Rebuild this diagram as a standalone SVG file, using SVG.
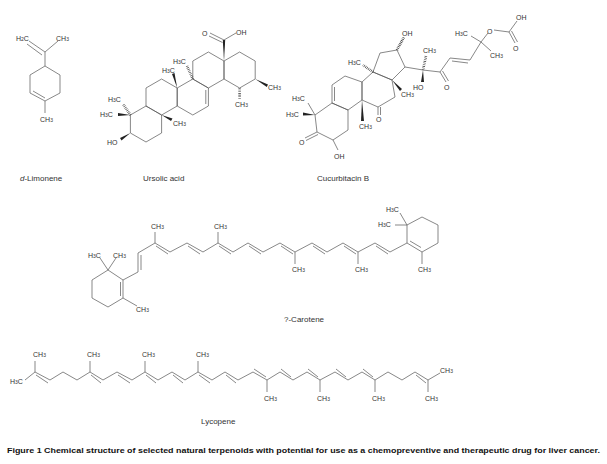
<svg xmlns="http://www.w3.org/2000/svg" width="607" height="464" viewBox="0 0 607 464">
<style>
line,polyline,polygon.r{stroke:#555;stroke-width:0.7;fill:none}
.w{fill:#222;stroke:none}
.h{stroke:#333;stroke-width:2.6;stroke-dasharray:0.6,1.1}
text{font-family:"Liberation Sans",Arial,sans-serif;font-size:7px;fill:#333}
.n{font-size:8px}
tspan.s{font-size:5px}
</style>
<rect width="607" height="464" fill="#fff"/>
<g id="limonene">
<line x1="29" y1="41" x2="45" y2="52"/><line x1="27" y1="44" x2="42" y2="55"/>
<line x1="58" y1="41" x2="45" y2="52"/><line x1="45" y1="52" x2="45" y2="66"/>
<polygon class="r" points="45,66 60,75 60,93 45,101 30,93 30,75"/>
<line x1="33" y1="91" x2="45" y2="98"/>
<line x1="45" y1="101" x2="45" y2="113"/>
<text x="16" y="41">H<tspan class="s">2</tspan>C</text><text x="56" y="41">CH<tspan class="s">3</tspan></text>
<text x="40" y="122">CH<tspan class="s">3</tspan></text>
<text class="n" x="20" y="181"><tspan font-style="italic">d</tspan>-Limonene</text>
</g>
<g id="ursolic">
<polygon class="r" points="146,106 161.6,115 161.6,133 146,142 130.4,133 130.4,115"/>
<polygon class="r" points="161.6,79 177.2,88 177.2,106 161.6,115 146,106 146,88"/>
<polygon class="r" points="192.8,79 208.4,88 208.4,106 192.8,115 177.2,106 177.2,88"/>
<polygon class="r" points="208.4,52 224,61 224,79 208.4,88 192.8,79 192.8,61"/>
<polygon class="r" points="239.6,52 255.2,61 255.2,79 239.6,88 224,79 224,61"/>
<line x1="205.8" y1="90" x2="205.8" y2="104"/>
<polygon class="w" points="224,61 222.8,40 225.2,40"/>
<line x1="224" y1="40" x2="210" y2="33"/><line x1="222.5" y1="42.5" x2="209" y2="36"/>
<line x1="224" y1="40" x2="236" y2="33"/>
<text x="202" y="36">O</text><text x="236" y="35">OH</text>
<polygon class="w" points="255.2,79 268,84.5 266.8,87"/>
<text x="268" y="90">CH<tspan class="s">3</tspan></text>
<line class="h" x1="239.6" y1="88" x2="239.6" y2="99"/>
<text x="235" y="107">CH<tspan class="s">3</tspan></text>
<line class="h" x1="192.8" y1="79" x2="187" y2="66"/>
<text x="173" y="64">H<tspan class="s">3</tspan>C</text>
<polygon class="w" points="177.2,88 172,74 174.5,73"/>
<text x="162" y="73">H<tspan class="s">3</tspan>C</text>
<polygon class="w" points="161.6,115 171,121 172.5,118.5"/>
<text x="173" y="126">CH<tspan class="s">3</tspan></text>
<line class="h" x1="130.4" y1="115" x2="123" y2="104"/>
<text x="108" y="102">H<tspan class="s">3</tspan>C</text>
<polygon class="w" points="130.4,115 118,113 118,116"/>
<text x="100" y="117">H<tspan class="s">3</tspan>C</text>
<polygon class="w" points="130.4,133 120,138 121.5,140.5"/>
<text x="107" y="145">HO</text>
<text class="n" x="143" y="181">Ursolic acid</text>
</g>
<g id="cucurbitacin">
<polygon class="r" points="315,115 317,132 333,140 348,130 348,110 332,103"/>
<polygon class="r" points="332,103 332,85 345,76 362,82 362,100 348,110"/>
<polygon class="r" points="362,82 373,72 392,80 395,97 378,107 362,100"/>
<polygon class="r" points="373,72 380,53 397,50 405,67 392,80"/>
<line x1="334.5" y1="87" x2="334.5" y2="101"/>
<line x1="378" y1="107" x2="378" y2="115"/><line x1="380.5" y1="107" x2="380.5" y2="115"/>
<text x="376" y="122">O</text>
<line class="h" x1="397" y1="50" x2="404" y2="37"/><text x="402" y="36">OH</text>
<line class="h" x1="373" y1="72" x2="363" y2="65"/><text x="348" y="65">H<tspan class="s">3</tspan>C</text>
<polygon class="w" points="392,80 402,89 400,91"/><text x="401" y="97">CH<tspan class="s">3</tspan></text>
<polygon class="w" points="362,100 361,121 364,121"/><text x="359" y="129">CH<tspan class="s">3</tspan></text>
<line x1="315" y1="115" x2="308" y2="103"/><text x="292" y="101">H<tspan class="s">3</tspan>C</text>
<polygon class="w" points="315,115 303,112.5 303,115.5"/><text x="286" y="117">H<tspan class="s">3</tspan>C</text>
<line x1="317" y1="132" x2="305" y2="138"/><line x1="318" y1="134.5" x2="306" y2="140.5"/>
<text x="299" y="145">O</text>
<line x1="333" y1="140" x2="338" y2="150"/><text x="334" y="159">OH</text>
<line x1="405" y1="67" x2="423" y2="70"/>
<line class="h" x1="423" y1="70" x2="426" y2="56"/><text x="423" y="53">CH<tspan class="s">3</tspan></text>
<polygon class="w" points="423,70 421,82 424,82"/><text x="413" y="90">HO</text>
<line x1="423" y1="70" x2="440" y2="72"/>
<line x1="440" y1="72" x2="446" y2="82"/><line x1="442.5" y1="71" x2="448.5" y2="81"/><text x="444" y="90">O</text>
<line x1="440" y1="72" x2="450" y2="58"/>
<line x1="450" y1="58" x2="470" y2="60"/><line x1="452" y1="61" x2="468" y2="63"/>
<line x1="470" y1="60" x2="481" y2="42"/>
<line x1="481" y1="42" x2="471" y2="36"/><text x="455" y="36">H<tspan class="s">3</tspan>C</text>
<line x1="481" y1="42" x2="491" y2="51"/><text x="490" y="58">CH<tspan class="s">3</tspan></text>
<line x1="481" y1="42" x2="488" y2="33"/><text x="487" y="34">O</text>
<line x1="494" y1="30" x2="509" y2="32"/>
<line x1="509" y1="32" x2="517" y2="21"/><text x="516" y="20">OH</text>
<line x1="509" y1="32" x2="515" y2="43"/><line x1="511.5" y1="31" x2="517.5" y2="42"/><text x="513" y="51">O</text>
<text class="n" x="317" y="181">Cucurbitacin B</text>
</g>
<g id="carotene">
<polygon class="r" points="108,270 92,280 92,298 108,307 123,298 123,280"/>
<line x1="120.5" y1="282" x2="120.5" y2="296"/>
<line x1="108" y1="270" x2="100" y2="258"/><line x1="108" y1="270" x2="116" y2="258"/>
<text x="88" y="258">H<tspan class="s">3</tspan>C</text><text x="113" y="258">CH<tspan class="s">3</tspan></text>
<line x1="123" y1="298" x2="137" y2="306"/><text x="136" y="312">CH<tspan class="s">3</tspan></text>
<polyline points="123,280 138,272 138,253 155,243 170,252 187,243 203,252 218,243 233,252 248,243 263,252 280,243 295,252 312,243 327,252 343,243 358,252 375,243 390,252 407,243"/>
<line x1="141" y1="270" x2="141" y2="255"/>
<line x1="156" y1="246" x2="168" y2="254"/>
<line x1="188" y1="246" x2="200" y2="254"/>
<line x1="219" y1="246" x2="231" y2="254"/>
<line x1="249" y1="246" x2="261" y2="254"/>
<line x1="281" y1="246" x2="293" y2="254"/>
<line x1="313" y1="246" x2="325" y2="254"/>
<line x1="344" y1="246" x2="356" y2="254"/>
<line x1="376" y1="246" x2="388" y2="254"/>
<line x1="155" y1="243" x2="155" y2="232"/><text x="151" y="229">CH<tspan class="s">3</tspan></text>
<line x1="218" y1="243" x2="218" y2="232"/><text x="214" y="229">CH<tspan class="s">3</tspan></text>
<line x1="295" y1="252" x2="295" y2="264"/><text x="292" y="272">CH<tspan class="s">3</tspan></text>
<line x1="358" y1="252" x2="358" y2="264"/><text x="355" y="272">CH<tspan class="s">3</tspan></text>
<polygon class="r" points="407,243 407,225 422,217 438,225 438,243 422,252"/>
<line x1="410" y1="241" x2="421" y2="247.5"/>
<line x1="407" y1="225" x2="400" y2="213"/><line x1="407" y1="225" x2="395" y2="225"/>
<text x="386" y="212">H<tspan class="s">3</tspan>C</text><text x="378" y="227">H<tspan class="s">3</tspan>C</text>
<line x1="422" y1="252" x2="422" y2="264"/><text x="418" y="272">CH<tspan class="s">3</tspan></text>
<text class="n" x="284" y="322">?-Carotene</text>
</g>
<g id="lycopene">
<polyline points="25,380 35,372 50,380 63,372 77,380 90,372 103,380 117,372 132,380 145,372 158,380 172,372 185,380 198,372 212,380 225,372 238,380 253,372 267,380 280,372 293,380 307,372 320,380 335,372 348,380 362,372 375,380 388,372 402,380 415,372 428,380 440,373"/>
<line x1="36" y1="375" x2="48" y2="383"/>
<line x1="91" y1="375" x2="101" y2="383"/>
<line x1="118" y1="375" x2="130" y2="383"/>
<line x1="146" y1="375" x2="156" y2="383"/>
<line x1="173" y1="375" x2="183" y2="383"/>
<line x1="199" y1="375" x2="210" y2="383"/>
<line x1="226" y1="375" x2="236" y2="383"/>
<line x1="254" y1="369" x2="266" y2="377"/>
<line x1="281" y1="369" x2="291" y2="377"/>
<line x1="308" y1="369" x2="318" y2="377"/>
<line x1="336" y1="369" x2="346" y2="377"/>
<line x1="363" y1="369" x2="373" y2="377"/>
<line x1="416" y1="375" x2="426" y2="383"/>
<line x1="35" y1="372" x2="35" y2="361"/><text x="33" y="357">CH<tspan class="s">3</tspan></text>
<line x1="90" y1="372" x2="90" y2="361"/><text x="87" y="357">CH<tspan class="s">3</tspan></text>
<line x1="145" y1="372" x2="145" y2="361"/><text x="142" y="357">CH<tspan class="s">3</tspan></text>
<line x1="198" y1="372" x2="198" y2="361"/><text x="196" y="357">CH<tspan class="s">3</tspan></text>
<line x1="267" y1="380" x2="267" y2="392"/><text x="264" y="401">CH<tspan class="s">3</tspan></text>
<line x1="320" y1="380" x2="320" y2="392"/><text x="317" y="401">CH<tspan class="s">3</tspan></text>
<line x1="375" y1="380" x2="375" y2="392"/><text x="372" y="401">CH<tspan class="s">3</tspan></text>
<line x1="428" y1="380" x2="428" y2="392"/><text x="425" y="401">CH<tspan class="s">3</tspan></text>
<text x="10" y="384">H<tspan class="s">3</tspan>C</text><text x="440" y="373">CH<tspan class="s">3</tspan></text>
<text class="n" x="201" y="424">Lycopene</text>
</g>
<text x="7" y="453" font-weight="bold" style="font-size:7.3px;fill:#111" textLength="593" lengthAdjust="spacingAndGlyphs">Figure 1  Chemical structure of selected natural terpenoids with potential for use as a chemopreventive and therapeutic drug for liver cancer.</text>
</svg>
